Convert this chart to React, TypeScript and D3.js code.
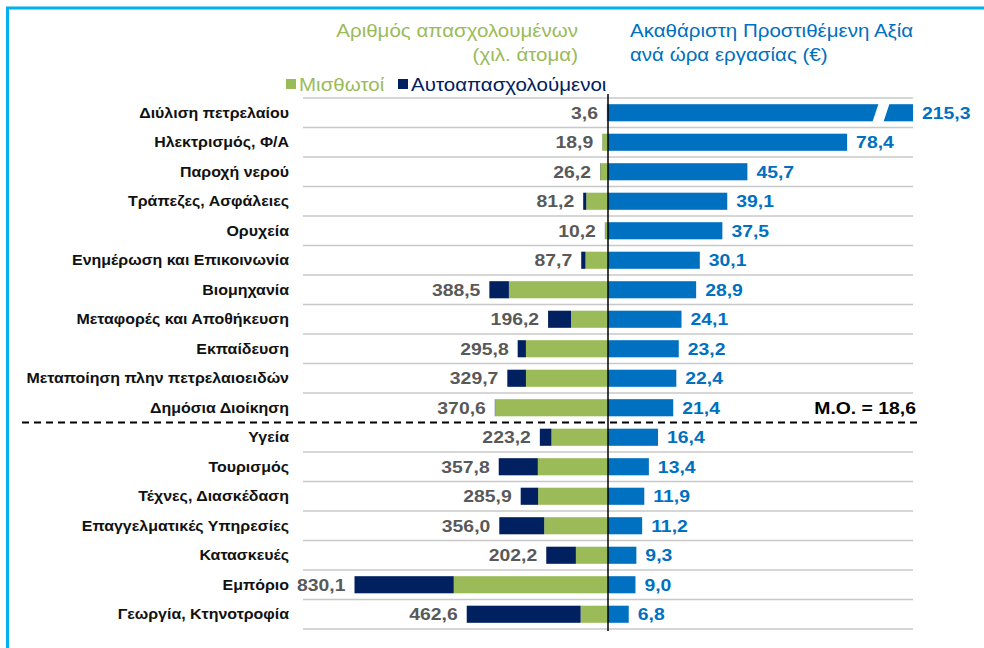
import React, { useEffect, useRef } from "react";
import * as d3 from "d3";

// Sectors, top to bottom
const sectors = [
  "Διύλιση πετρελαίου",
  "Ηλεκτρισμός, Φ/Α",
  "Παροχή νερού",
  "Τράπεζες, Ασφάλειες",
  "Ορυχεία",
  "Ενημέρωση και Επικοινωνία",
  "Βιομηχανία",
  "Μεταφορές και Αποθήκευση",
  "Εκπαίδευση",
  "Μεταποίηση πλην πετρελαιοειδών",
  "Δημόσια Διοίκηση",
  "Υγεία",
  "Τουρισμός",
  "Τέχνες, Διασκέδαση",
  "Επαγγελματικές Υπηρεσίες",
  "Κατασκευές",
  "Εμπόριο",
  "Γεωργία, Κτηνοτροφία",
];

// Employment, thousand persons (total and self-employed part)
const totalEmployed = [3.6, 18.9, 26.2, 81.2, 10.2, 87.7, 388.5, 196.2, 295.8, 329.7, 370.6, 223.2, 357.8, 285.9, 356.0, 202.2, 830.1, 462.6];
const selfEmployed = [0.6, 0.4, 0.7, 10.0, 0.7, 14.0, 64.0, 75.0, 27.0, 61.0, 1.0, 38.0, 128.0, 57.0, 147.0, 97.0, 325.0, 373.0];

// Gross value added per hour worked (€)
const gvaPerHour = [215.3, 78.4, 45.7, 39.1, 37.5, 30.1, 28.9, 24.1, 23.2, 22.4, 21.4, 16.4, 13.4, 11.9, 11.2, 9.3, 9.0, 6.8];
const gvaAverage = 18.6;
const gvaCap = 100; // bars above this are drawn broken

const GREEN = "#9BBB59";
const NAVY = "#002060";
const BLUE = "#0070C0";
const GREY = "#595959";
const FONT = "'Liberation Sans', Arial, sans-serif";
const SX = 1.14; // the original text is a bit wider than it is tall

const fmt = (v: number) => d3.format(".1f")(v).replace(".", ",");
const at = (x: number, y: number) => `translate(${x},${y}) scale(${SX},1)`;

function Chart() {
  const ref = useRef<SVGSVGElement | null>(null);

  useEffect(() => {
    const svg = d3.select(ref.current);
    svg.selectAll("*").remove();

    const axisX = 608;
    const top = 98;
    const bottom = 629;

    const y = d3.scaleBand<string>()
      .domain(sectors)
      .range([top, bottom])
      .paddingInner(0.42)
      .paddingOuter(0.21);

    const xL = d3.scaleLinear().domain([0, 830.1]).range([axisX, 354.5]);
    const xR = d3.scaleLinear().domain([0, gvaCap]).range([axisX, 913]);

    const rows = sectors.map((s, i) => ({
      sector: s,
      total: totalEmployed[i],
      self: selfEmployed[i],
      emp: totalEmployed[i] - selfEmployed[i],
      gva: gvaPerHour[i],
    }));

    // Frame
    svg.append("path")
      .attr("d", "M7.5,648 L7.5,8 L984,8")
      .attr("fill", "none")
      .attr("stroke", "#00B0F0")
      .attr("stroke-width", 3);

    // Headers
    const head = svg.append("g").style("font-family", FONT).style("font-size", "18px");
    head.append("text").attr("transform", at(578, 37)).attr("text-anchor", "end")
      .attr("fill", GREEN).text("Αριθμός απασχολουμένων");
    head.append("text").attr("transform", at(578, 61)).attr("text-anchor", "end")
      .attr("fill", GREEN).text("(χιλ. άτομα)");
    head.append("text").attr("transform", at(630, 37))
      .attr("fill", BLUE).text("Ακαθάριστη Προστιθέμενη Αξία");
    head.append("text").attr("transform", at(630, 61))
      .attr("fill", BLUE).text("ανά ώρα εργασίας (€)");

    // Legend
    const legend = svg.append("g").style("font-family", FONT).style("font-size", "18px");
    legend.append("rect").attr("x", 286).attr("y", 79).attr("width", 10).attr("height", 10).attr("fill", GREEN);
    legend.append("text").attr("transform", at(299, 91)).attr("fill", GREEN).text("Μισθωτοί");
    legend.append("rect").attr("x", 398).attr("y", 79).attr("width", 10).attr("height", 10).attr("fill", NAVY);
    legend.append("text").attr("transform", at(411, 91)).attr("fill", NAVY).text("Αυτοαπασχολούμενοι");

    // Grid lines between rows (none where the dashed line is)
    const step = y.step();
    const lines = d3.range(sectors.length + 1).filter(k => k !== 11);
    svg.append("g").selectAll("line")
      .data(lines)
      .enter()
      .append("line")
      .attr("x1", 303)
      .attr("x2", 913)
      .attr("y1", k => top + k * step)
      .attr("y2", k => top + k * step)
      .attr("stroke", "#C8C8C8")
      .attr("stroke-width", 1.5);

    // Dashed separator
    svg.append("line")
      .attr("x1", 22).attr("x2", 921)
      .attr("y1", top + 11 * step).attr("y2", top + 11 * step)
      .attr("stroke", "#000")
      .attr("stroke-width", 2)
      .attr("stroke-dasharray", "7,5");

    const bh = y.bandwidth();
    const mid = (s: string) => y(s)! + bh / 2;

    // Left stacked bars
    svg.append("g").selectAll("rect")
      .data(rows)
      .enter()
      .append("rect")
      .attr("x", d => xL(d.emp))
      .attr("y", d => y(d.sector)!)
      .attr("width", d => axisX - xL(d.emp))
      .attr("height", bh)
      .attr("fill", GREEN);

    svg.append("g").selectAll("rect")
      .data(rows)
      .enter()
      .append("rect")
      .attr("x", d => xL(d.total))
      .attr("y", d => y(d.sector)!)
      .attr("width", d => xL(d.emp) - xL(d.total))
      .attr("height", bh)
      .attr("fill", NAVY);

    // Right bars
    svg.append("g").selectAll("rect")
      .data(rows)
      .enter()
      .append("rect")
      .attr("x", axisX)
      .attr("y", d => y(d.sector)!)
      .attr("width", d => xR(Math.min(d.gva, gvaCap)) - axisX)
      .attr("height", bh)
      .attr("fill", BLUE);

    // Break mark on capped bars
    rows.filter(d => d.gva > gvaCap).forEach(d => {
      const y0 = y(d.sector)! - 2;
      const y1 = y0 + bh + 4;
      const bx = xR(gvaCap) - 41;
      svg.append("polygon")
        .attr("points", `${bx},${y1} ${bx + 7},${y0} ${bx + 18},${y0} ${bx + 11},${y1}`)
        .attr("fill", "#fff");
    });

    // Category labels
    svg.append("g").selectAll("text")
      .data(rows)
      .enter()
      .append("text")
      .attr("transform", d => at(289, mid(d.sector)))
      .attr("dy", "0.35em")
      .attr("text-anchor", "end")
      .style("font-family", FONT)
      .style("font-size", "14px")
      .style("font-weight", "bold")
      .attr("fill", "#111")
      .text(d => d.sector);

    // Left value labels
    svg.append("g").selectAll("text")
      .data(rows)
      .enter()
      .append("text")
      .attr("transform", d => at(xL(d.total) - 9, mid(d.sector)))
      .attr("dy", "0.36em")
      .attr("text-anchor", "end")
      .style("font-family", FONT)
      .style("font-size", "17px")
      .style("font-weight", "bold")
      .attr("fill", GREY)
      .text(d => fmt(d.total));

    // Right value labels
    svg.append("g").selectAll("text")
      .data(rows)
      .enter()
      .append("text")
      .attr("transform", d => at(xR(Math.min(d.gva, gvaCap)) + 9, mid(d.sector)))
      .attr("dy", "0.36em")
      .style("font-family", FONT)
      .style("font-size", "17px")
      .style("font-weight", "bold")
      .attr("fill", BLUE)
      .text(d => fmt(d.gva));

    // Average note
    svg.append("text")
      .attr("transform", at(916, mid(sectors[10])))
      .attr("dy", "0.36em")
      .attr("text-anchor", "end")
      .style("font-family", FONT)
      .style("font-size", "17px")
      .style("font-weight", "bold")
      .attr("fill", "#000")
      .text(`Μ.Ο. = ${fmt(gvaAverage)}`);

    // Central axis
    svg.append("line")
      .attr("x1", axisX).attr("x2", axisX)
      .attr("y1", top - 4).attr("y2", bottom + 2)
      .attr("stroke", "#000")
      .attr("stroke-width", 1.5);
  }, []);

  return <svg ref={ref} width={984} height={648} style={{ position: "absolute", left: 0, top: 0, background: "#fff" }} />;
}

export default function App() {
  return <Chart />;
}
